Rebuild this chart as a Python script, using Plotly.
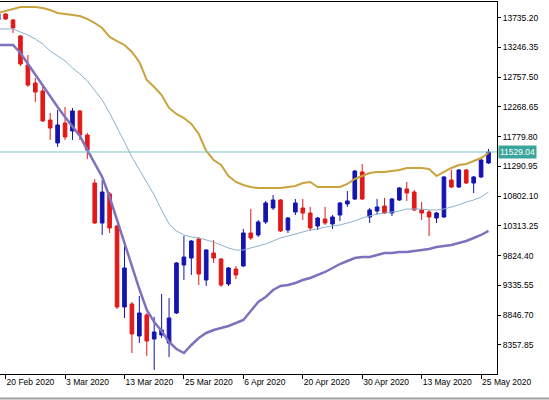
import plotly.graph_objects as go

# daily bars, 19 Feb 2020 - 26 May 2020
dates = [
    "19 Feb 2020", "20 Feb 2020", "21 Feb 2020", "24 Feb 2020", "25 Feb 2020", "26 Feb 2020",
    "27 Feb 2020", "28 Feb 2020", "2 Mar 2020", "3 Mar 2020", "4 Mar 2020", "5 Mar 2020",
    "6 Mar 2020", "9 Mar 2020", "10 Mar 2020", "11 Mar 2020", "12 Mar 2020", "13 Mar 2020",
    "16 Mar 2020", "17 Mar 2020", "18 Mar 2020", "19 Mar 2020", "20 Mar 2020", "23 Mar 2020",
    "24 Mar 2020", "25 Mar 2020", "26 Mar 2020", "27 Mar 2020", "30 Mar 2020", "31 Mar 2020",
    "1 Apr 2020", "2 Apr 2020", "3 Apr 2020", "6 Apr 2020", "7 Apr 2020", "8 Apr 2020",
    "9 Apr 2020", "14 Apr 2020", "15 Apr 2020", "16 Apr 2020", "17 Apr 2020", "20 Apr 2020",
    "21 Apr 2020", "22 Apr 2020", "23 Apr 2020", "24 Apr 2020", "27 Apr 2020", "28 Apr 2020",
    "29 Apr 2020", "30 Apr 2020", "4 May 2020", "5 May 2020", "6 May 2020", "7 May 2020",
    "8 May 2020", "11 May 2020", "12 May 2020", "13 May 2020", "14 May 2020", "15 May 2020",
    "18 May 2020", "19 May 2020", "20 May 2020", "21 May 2020", "22 May 2020", "25 May 2020",
    "26 May 2020",
]

opens = [
    13697, 13796, 13697, 13435, 12958, 12662, 12531, 12054, 11677, 12005, 11874, 12202,
    11808, 11019, 10362, 10839, 10313, 8982, 9031, 8506, 8851, 8456, 8522, 8391,
    8883, 9672, 9787, 10099, 9426, 9869, 9770, 9360, 9606, 9656, 10198, 10165,
    10379, 10609, 10740, 10247, 10543, 10609, 10526, 10313, 10428, 10346, 10493, 10674,
    10756, 11200, 10461, 10559, 10641, 10526, 10740, 10921, 10871, 10576, 10543, 10444,
    10461, 11069, 10954, 11233, 11019, 11118, 11348,
]
highs = [
    13812, 13812, 13714, 13451, 13122, 12744, 12597, 12169, 12219, 12268, 12252, 12219,
    11841, 11085, 11069, 10871, 10329, 10001, 9064, 9163, 8883, 8818, 9196, 9130,
    9721, 10148, 10083, 10132, 9935, 10083, 9787, 9639, 9656, 10264, 10592, 10411,
    10724, 10822, 10756, 10461, 10756, 10756, 10625, 10461, 10625, 10493, 10707, 10888,
    11233, 11331, 10609, 10756, 10773, 10773, 10954, 11036, 10904, 10707, 10576, 10543,
    11134, 11233, 11249, 11249, 11134, 11414, 11578,
]
lows = [
    13681, 13697, 13484, 12942, 12597, 12350, 12022, 11726, 11611, 11726, 11726, 11726,
    11414, 10346, 10165, 10198, 8949, 8801, 8226, 8391, 8177, 7947, 8473, 8160,
    8867, 9426, 9508, 9343, 9327, 9705, 9310, 9327, 9442, 9639, 10083, 10132,
    10346, 10576, 10214, 10198, 10493, 10411, 10231, 10247, 10329, 10264, 10395, 10625,
    10740, 10740, 10362, 10493, 10510, 10477, 10724, 10724, 10559, 10411, 10148, 10362,
    10444, 10937, 10937, 11003, 10855, 11101, 11331,
]
closes = [
    13796, 13714, 13566, 12974, 12629, 12514, 12038, 11923, 11972, 11775, 12202, 11808,
    11562, 10362, 10871, 10280, 8982, 9623, 8538, 8883, 8423, 8571, 8604, 8801,
    9705, 9803, 10066, 9524, 9918, 9787, 9343, 9623, 9508, 10198, 10116, 10379,
    10691, 10740, 10231, 10444, 10691, 10526, 10280, 10444, 10362, 10461, 10691, 10724,
    11216, 10756, 10576, 10625, 10526, 10756, 10937, 10855, 10576, 10526, 10461, 10526,
    11118, 10954, 11233, 11019, 11118, 11397, 11529.04,
]

# bollinger bands (20)
band_upper = [
    13812, 13845, 13878, 13911, 13911, 13911, 13895, 13862, 13812, 13796, 13780, 13763,
    13714, 13648, 13566, 13418, 13352, 13287, 13172, 13007, 12712, 12597, 12465, 12252,
    12153, 12087, 11989, 11824, 11545, 11397, 11315, 11134, 11036, 10986, 10954, 10937,
    10937, 10937, 10937, 10954, 10970, 11019, 11036, 10954, 10954, 10954, 10954, 11003,
    11085, 11134, 11184, 11200, 11200, 11216, 11233, 11266, 11266, 11266, 11249, 11134,
    11200, 11266, 11315, 11331, 11381, 11430, 11512,
]
band_middle = [
    13550, 13550, 13550, 13500, 13451, 13385, 13303, 13188, 13106, 13024, 12909, 12810,
    12695, 12547, 12383, 12169, 11939, 11693, 11446, 11233, 11019, 10822, 10576, 10346,
    10231, 10165, 10132, 10116, 10083, 10050, 10001, 9951, 9918, 9918, 9951, 9984,
    10017, 10066, 10116, 10148, 10181, 10214, 10247, 10264, 10296, 10313, 10329, 10362,
    10395, 10444, 10477, 10510, 10526, 10543, 10559, 10592, 10592, 10592, 10576, 10576,
    10592, 10625, 10658, 10707, 10740, 10789, 10871,
]
band_lower = [
    13287, 13287, 13287, 13155, 12974, 12810, 12613, 12432, 12268, 12104, 11956, 11792,
    11562, 11348, 11118, 10789, 10411, 10001, 9623, 9277, 8933, 8736, 8588, 8407,
    8292, 8226, 8358, 8473, 8555, 8604, 8637, 8670, 8719, 8768, 8916, 9064,
    9146, 9261, 9327, 9343, 9376, 9426, 9459, 9508, 9557, 9623, 9688, 9738,
    9787, 9803, 9803, 9836, 9869, 9869, 9886, 9886, 9902, 9918, 9935, 9968,
    9984, 10001, 10033, 10066, 10116, 10165, 10231,
]

last_price = 11529.04
price_ticks = [8357.85, 8846.70, 9335.55, 9824.40, 10313.25, 10802.10,
               11290.95, 11779.80, 12268.65, 12757.50, 13246.35, 13735.20]
date_ticks = ["20 Feb 2020", "3 Mar 2020", "13 Mar 2020", "25 Mar 2020", "6 Apr 2020",
              "20 Apr 2020", "30 Apr 2020", "13 May 2020", "25 May 2020"]

fig = go.Figure()

fig.add_trace(go.Scatter(x=dates, y=band_upper, mode="lines",
                         line=dict(color="rgb(200,163,62)", width=2), showlegend=False))
fig.add_trace(go.Scatter(x=dates, y=band_middle, mode="lines",
                         line=dict(color="rgb(140,178,205)", width=1), showlegend=False))
fig.add_trace(go.Scatter(x=dates, y=band_lower, mode="lines",
                         line=dict(color="rgb(128,112,190)", width=2.5), showlegend=False))

fig.add_trace(go.Candlestick(
    x=dates, open=opens, high=highs, low=lows, close=closes,
    increasing=dict(line=dict(color="rgb(20,20,175)", width=1), fillcolor="rgb(20,20,175)"),
    decreasing=dict(line=dict(color="rgb(225,25,25)", width=1), fillcolor="rgb(225,25,25)"),
    whiskerwidth=0,
    showlegend=False,
))

# bid line
fig.add_shape(type="line", xref="paper", x0=0, x1=1, yref="y", y0=last_price, y1=last_price,
              line=dict(color="rgb(125,195,195)", width=1))
fig.add_annotation(xref="paper", x=1, xanchor="left", xshift=1, yref="y", y=last_price,
                   text=f"{last_price:.2f}", showarrow=False, bgcolor="rgb(60,165,155)",
                   font=dict(color="white", size=8.5, family="Liberation Sans"), borderpad=1)
# window bottom edge
fig.add_shape(type="line", xref="paper", x0=-0.01, x1=1.11, yref="paper", y0=-0.066, y1=-0.066,
              line=dict(color="rgb(160,160,160)", width=2))

fig.update_layout(
    width=549, height=400,
    margin=dict(l=0, r=52, t=2, b=26),
    paper_bgcolor="white", plot_bgcolor="white",
    font=dict(family="Liberation Sans", size=8.5, color="black"),
    xaxis=dict(
        type="category", range=[0.246, 67.14], automargin=False,
        tickmode="array", tickvals=date_ticks, ticktext=date_ticks,
        ticks="outside", ticklen=4, tickcolor="black", tickangle=0,
        ticklabelposition="outside right",
        showline=True, linecolor="black", linewidth=1, mirror=True,
        showgrid=False, zeroline=False,
        rangeslider=dict(visible=False),
        tickfont=dict(size=8.5),
    ),
    yaxis=dict(
        side="right", range=[7881, 13993], automargin=False,
        tickmode="array", tickvals=price_ticks, ticktext=[f"{v:.2f}" for v in price_ticks],
        ticks="outside", ticklen=3, tickcolor="black",
        showline=True, linecolor="black", linewidth=1,
        showgrid=False, zeroline=False,
        tickfont=dict(size=8.5),
    ),
)

fig.write_html("out.html", config={"displayModeBar": False},
               post_script="document.body.style.margin='0px';")
